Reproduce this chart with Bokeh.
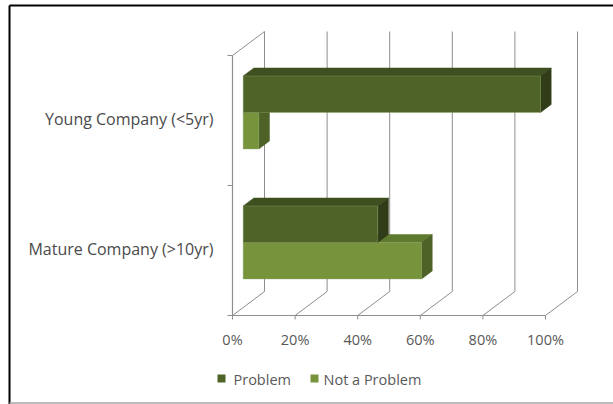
from bokeh.plotting import figure
from bokeh.models import Range1d
from bokeh.core.properties import value
from bokeh.embed import file_html
from bokeh.resources import INLINE

# ---- data ----
categories = ["Mature Company (>10yr)", "Young Company (<5yr)"]
problem = [43, 95]
not_problem = [57, 5]
tick_values = [0, 20, 40, 60, 80, 100]
tick_labels = ["0%", "20%", "40%", "60%", "80%", "100%"]
series_names = ["Problem", "Not a Problem"]

# ---- colours (front, top, side) ----
PROB = ("#4F6228", "#3F5020", "#303D18")
NOTP = ("#77933C", "#5E7A2E", "#4E6228")
GRID = "#8E8E8E"
TEXT = "#595959"

W, H = 613, 404
ORIGIN_X = 232          # canvas px of the 0% front corner
ORIGIN_Y = 315          # canvas px (from top) of the floor front edge
PX_PER_PCT = 3.13
PX_PER_CAT = 130.0

def sx(px):
    return (px - ORIGIN_X) / PX_PER_PCT

def sy(py):
    return (ORIGIN_Y - py) / PX_PER_CAT

# 3-D depth of the plot box, in data units
DX = 32 / PX_PER_PCT
DY = 24 / PX_PER_CAT
BAR_H = 36.5 / PX_PER_CAT

p = figure(width=W, height=H, output_backend="svg", toolbar_location=None,
           x_range=Range1d(sx(0), sx(W)), y_range=Range1d(sy(H), sy(0)),
           min_border=0, outline_line_color=None)
p.xaxis.visible = False
p.yaxis.visible = False
p.xgrid.visible = False
p.ygrid.visible = False
p.background_fill_color = "white"
p.border_fill_color = "white"

n = len(categories)

# back wall gridlines
p.segment(x0=[t + DX for t in tick_values], y0=[DY] * len(tick_values),
          x1=[t + DX for t in tick_values], y1=[n + DY] * len(tick_values),
          line_color=GRID, line_width=1)
# floor depth lines
p.segment(x0=tick_values, y0=[0] * len(tick_values),
          x1=[t + DX for t in tick_values], y1=[DY] * len(tick_values),
          line_color=GRID, line_width=1)
# left wall top edge
p.segment(x0=[0], y0=[n], x1=[DX], y1=[n + DY], line_color=GRID, line_width=1)
# front axes
p.segment(x0=[0, 0], y0=[0, 0], x1=[0, tick_values[-1]], y1=[n, 0],
          line_color=GRID, line_width=1.2)
# tick marks
p.segment(x0=[sx(ORIGIN_X - 5)] * (n + 1), y0=list(range(n + 1)),
          x1=[0] * (n + 1), y1=list(range(n + 1)), line_color=GRID, line_width=1)
p.segment(x0=tick_values, y0=[0] * len(tick_values),
          x1=tick_values, y1=[sy(ORIGIN_Y + 4)] * len(tick_values),
          line_color=GRID, line_width=1)

# 3-D bars: the lower series is drawn first so the upper bar's front face
# hides the part of its top face that lies underneath
ox, oy = DX / 3, DY / 3
bx, by = 2 * DX / 3, 2 * DY / 3

def draw_bars(vals, offsets, cols):
    front, top, side = cols
    y0s = [i + 0.5 + off for i, off in zip(range(n), offsets)]
    y1s = [y + BAR_H for y in y0s]
    top_xs, top_ys, side_xs, side_ys = [], [], [], []
    for v, y0, y1 in zip(vals, y0s, y1s):
        top_xs.append([ox, v + ox, v + bx, bx])
        top_ys.append([y1 + oy, y1 + oy, y1 + by, y1 + by])
        side_xs.append([v + ox, v + ox, v + bx, v + bx])
        side_ys.append([y0 + oy, y1 + oy, y1 + by, y0 + by])
    p.patches(top_xs, top_ys, fill_color=top, line_color=top, line_width=0.5)
    p.patches(side_xs, side_ys, fill_color=side, line_color=side, line_width=0.5)
    p.quad(left=[ox] * n, right=[v + ox for v in vals],
           bottom=[y + oy for y in y0s], top=[y + oy for y in y1s],
           fill_color=front, line_color="#8FA86A", line_alpha=0.45, line_width=0.8)

draw_bars(not_problem, [-BAR_H] * n, NOTP)
draw_bars(problem, [0.0] * n, PROB)

FONT = value("Open Sans")
# category labels
p.text(x=[sx(213)] * n, y=[i + 0.5 + 0.012 for i in range(n)], text=categories,
       text_align="right", text_baseline="middle", text_font=FONT,
       text_font_size="16px", text_color="#4A4A4A")
# value axis labels
p.text(x=tick_values, y=[sy(338.5)] * len(tick_values), text=tick_labels,
       text_align="center", text_baseline="middle", text_font=FONT,
       text_font_size="14.5px", text_color=TEXT)

# legend
leg_sq_x = [217, 310]
leg_txt_x = [233, 323]
p.quad(left=[sx(x) for x in leg_sq_x], right=[sx(x + 8) for x in leg_sq_x],
       bottom=[sy(382)] * 2, top=[sy(374)] * 2,
       fill_color=[PROB[0], NOTP[0]], line_color=None)
p.text(x=[sx(x) for x in leg_txt_x], y=[sy(378.5)] * 2, text=series_names,
       text_align="left", text_baseline="middle", text_font=FONT,
       text_font_size="14.5px", text_color=TEXT)

# chart frame
p.segment(x0=[sx(9), sx(9)], y0=[sy(5), sy(5)], x1=[sx(9), sx(W + 2)], y1=[sy(H + 2), sy(5)],
          line_color="black", line_width=2)
p.segment(x0=[sx(9)], y0=[sy(402.5)], x1=[sx(W + 2)], y1=[sy(402.5)],
          line_color="#A6A6A6", line_width=1.5)

open("out.html", "w").write(file_html(p, INLINE))
